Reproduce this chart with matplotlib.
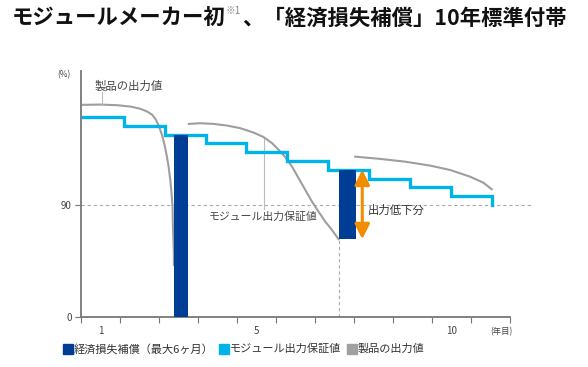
import matplotlib
matplotlib.use("Agg")
import numpy as np
import matplotlib.pyplot as plt

plt.rcParams['font.family'] = ['Noto Sans CJK JP', 'DejaVu Sans']

# モジュール出力保証値 (年ごとの階段, %)
guarantee_years = [0, 1, 2, 3, 4, 5, 6, 7, 8, 9, 10]
guarantee_pct = [97.0, 96.3, 95.6, 94.9, 94.2, 93.5, 92.8, 92.1, 91.4, 90.7]

# 製品の出力値 (3本の曲線)
curve1_x = [0.0, 0.44, 0.846, 1.17, 1.415, 1.578, 1.70, 1.78, 1.837, 1.885, 1.944, 2.0,
            2.049, 2.098, 2.139, 2.17, 2.195, 2.2, 2.212, 2.227, 2.227]
curve1_y = [97.96, 97.98, 97.93, 97.82, 97.64, 97.42, 97.16, 96.82, 96.44, 96.05, 95.49, 94.77,
            93.98, 93.05, 91.99, 90.93, 88.63, 77.95, 64.5, 51.2, 41.8]
curve2_x = [2.593, 2.878, 3.202, 3.529, 3.854, 4.178, 4.422, 4.627, 4.788, 4.951, 5.115,
            5.276, 5.439, 5.602, 5.763, 5.927, 6.09, 6.25]
curve2_y = [96.44, 96.50, 96.44, 96.31, 96.10, 95.75, 95.39, 94.91, 94.38, 93.79, 93.04,
            92.12, 91.19, 90.26, 84.6, 76.6, 69.9, 62.5]
curve3_x = [6.659, 7.268, 7.878, 8.488, 8.976, 9.463, 9.788, 9.993]
curve3_y = [93.84, 93.66, 93.44, 93.13, 92.78, 92.25, 91.77, 91.25]

# 経済損失補償 (棒)
bar_left = [2.227, 6.25]
bar_width = [0.35, 0.42]
bar_top = [95.6, 92.8]
bar_bottom = [0, 62.5]

# 出力低下分 (矢印)
arrow_x = 6.83
arrow_from = 92.8
arrow_to = 62.5

BLUE = '#00B4EA'
NAVY = '#003E96'
GRAY = '#9E9E9E'
ORANGE = '#F28C00'
AXC = '#777777'


def fwd(p):
    p = np.asarray(p, dtype=float)
    return np.where(p <= 90, p * 112 / 90, 112 + (p - 90) * 12.57)


def inv(v):
    v = np.asarray(v, dtype=float)
    return np.where(v <= 112, v * 90 / 112, 90 + (v - 112) / 12.57)


fig = plt.figure(figsize=(5.88, 3.67), dpi=100)
ax = fig.add_axes([81.5 / 588, 50 / 367, (510 - 81.5) / 588, (317 - 71) / 367])
ax.set_yscale('function', functions=(fwd, inv))
xmin, xmax = -0.03, 10.44
ax.set_xlim(xmin, xmax)
ax.set_ylim(0, 100.65)

# 90% 破線
ax.plot([xmin, 11.0], [90, 90], ls=(0, (3, 2.5)), color='#AAAAAA', lw=0.8, clip_on=False, zorder=1)

# 保証値の階段
sx = np.repeat(guarantee_years, 2)[1:-1]
sy = np.repeat(guarantee_pct, 2)
sx = np.append(sx, guarantee_years[-1])
sy = np.append(sy, 90)
ax.plot(sx, sy, color=BLUE, lw=2.4, solid_joinstyle='miter', zorder=3)

# 製品の出力値
for cx, cy in [(curve1_x, curve1_y), (curve2_x, curve2_y), (curve3_x, curve3_y)]:
    ax.plot(cx, cy, color=GRAY, lw=1.5, zorder=2, solid_joinstyle='round')

# 補償の棒
for l, w, t, b in zip(bar_left, bar_width, bar_top, bar_bottom):
    ax.bar(l, t - b, width=w, bottom=b, align='edge', color=NAVY, zorder=4)

# 縦破線
ax.plot([bar_left[1], bar_left[1]], [0, bar_bottom[1]], ls=(0, (3, 2.5)), color='#AAAAAA', lw=0.8, zorder=1)

# 矢印
ax.annotate('', xy=(arrow_x, arrow_to), xytext=(arrow_x, arrow_from),
            arrowprops=dict(arrowstyle='<|-|>,head_length=0.9,head_width=0.45', color=ORANGE, lw=2.2,
                            shrinkA=0, shrinkB=0), zorder=5)
ax.text(6.97, 85.3, '出力低下分', fontsize=8.2, color='#333333', va='center', ha='left')

# 注記
ax.text(0.3, 99.45, '製品の出力値', fontsize=8.2, color='#444444', va='center', ha='left')
ax.plot([0.48, 0.48], [98.95, 97.98], color='#BBBBBB', lw=0.8)
ax.text(3.09, 80.5, 'モジュール出力保証値', fontsize=7.8, color='#444444', va='center', ha='left')
ax.plot([4.42, 4.42], [95.3, 86.5], color='#BBBBBB', lw=0.8, zorder=1)

# 軸
for s in ['top', 'right']:
    ax.spines[s].set_visible(False)
for s in ['left', 'bottom']:
    ax.spines[s].set_color(AXC)
    ax.spines[s].set_linewidth(1.3)
ax.set_yticks([0, 90])
ax.set_yticklabels(['0', '90'], fontsize=7, color='#444444')
ax.tick_params(axis='y', length=4, color=AXC, pad=3)
ticks = np.linspace(xmin, xmax, 12)
ax.set_xticks(ticks)
ax.set_xticklabels([''] * 12)
ax.tick_params(axis='x', length=4, color=AXC)
centers = (ticks[:-1] + ticks[1:]) / 2
for i, lab in [(0, '1'), (4, '5'), (9, '10')]:
    ax.text(centers[i], -0.058, lab, transform=ax.get_xaxis_transform(), fontsize=7,
            color='#444444', ha='center', va='center')
ax.text(xmax - 0.2, -0.058, '(年目)', transform=ax.get_xaxis_transform(), fontsize=6,
        color='#444444', ha='center', va='center')
fig.text(64 / 588, 1 - 75 / 367, '(%)', fontsize=6, color='#444444', ha='center', va='center')

# タイトル (3つに分けて横に並べる)
r = fig.canvas.get_renderer()
ty = 1 - 18 / 367
t0 = fig.text(12 / 588, ty, 'モジュールメーカー初', fontsize=15.4, fontweight='bold',
              ha='left', va='center', color='#111111')
x1 = t0.get_window_extent(r).x1
t1 = fig.text(x1 / 588, 1 - 11 / 367, '※1', fontsize=7, color='#888888', ha='left', va='center')
x2 = t1.get_window_extent(r).x1 + 1
fig.text(x2 / 588, ty, '、「経済損失補償」10年標準付帯', fontsize=15.4, fontweight='bold',
         ha='left', va='center', color='#111111')

# 凡例 (手で配置)
leg_y = 1 - 349 / 367
leg_items = [('経済損失補償（最大6ヶ月）', NAVY, 63), ('モジュール出力保証値', BLUE, 219),
             ('製品の出力値', '#A0A0A0', 347)]
for lab, c, px in leg_items:
    fig.patches.append(plt.Rectangle((px / 588, leg_y - 5 / 367), 10 / 588, 10 / 367,
                                     transform=fig.transFigure, color=c))
    fig.text((px + 10.5) / 588, leg_y, lab, fontsize=8, color='#333333', ha='left', va='center')

fig.savefig('out.png', dpi=100)
